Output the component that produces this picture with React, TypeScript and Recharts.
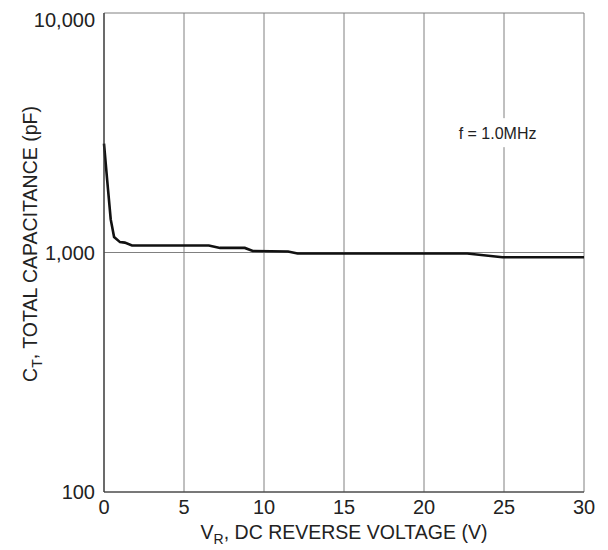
import React from "react";
import {
  LineChart,
  Line,
  XAxis,
  YAxis,
  CartesianGrid,
  ReferenceDot,
} from "recharts";

const voltage = [0, 0.2, 0.42, 0.63, 1.0, 1.3, 1.75, 6.55, 7.25, 8.8, 9.3, 11.5, 12.1, 22.7, 24.9, 30];
const capacitance = [2850, 2000, 1375, 1160, 1105, 1100, 1070, 1070, 1045, 1045, 1015, 1010, 990, 990, 955, 955];
const xTicks = [0, 5, 10, 15, 20, 25, 30];
const yTicks = [100, 1000, 10000];
const noteX = 24.6;
const noteY = 3150;
const noteText = "f = 1.0MHz";

const data = voltage.map((v, i) => ({ v, c: capacitance[i] }));

const FONT = "'Liberation Sans', Arial, sans-serif";
const TEXT = "#222";
const GRID = "#808080";

const fmt = (n: number) => n.toLocaleString("en-US");

const XLabel = (props: any) => {
  const vb = props.viewBox || {};
  const cx = vb.x + vb.width / 2;
  const y = vb.y + 47;
  return (
    <text x={cx} y={y} textAnchor="middle" fontFamily={FONT} fontSize={19.5} fill={TEXT}>
      <tspan>V</tspan>
      <tspan fontSize={14} dy={5}>R</tspan>
      <tspan dy={-5}>, DC REVERSE VOLTAGE (V)</tspan>
    </text>
  );
};

const YLabel = (props: any) => {
  const x = 22;
  const cy = 236;
  return (
    <text
      x={x}
      y={cy}
      dy="0.35em"
      textAnchor="middle"
      fontFamily={FONT}
      fontSize={19.5}
      fill={TEXT}
      transform={`rotate(-90 ${x} ${cy})`}
    >
      <tspan>C</tspan>
      <tspan fontSize={14} dy={5}>T</tspan>
      <tspan dy={-5}>, TOTAL CAPACITANCE (pF)</tspan>
    </text>
  );
};

const Note = (props: any) => {
  const { cx, cy } = props;
  return (
    <g>
      <rect x={cx - 43} y={cy - 15} width={86} height={29} fill="#fff" />
      <text
        x={cx}
        y={cy}
        dy="0.35em"
        textAnchor="middle"
        fontFamily={FONT}
        fontSize={16}
        fill={TEXT}
      >
        {noteText}
      </text>
    </g>
  );
};

export default function App() {
  return (
    <div style={{ width: 600, height: 542, background: "#fff" }}>
      <LineChart
        width={600}
        height={542}
        data={data}
        margin={{ top: 5, right: 24, left: 0, bottom: 0 }}
      >
        <CartesianGrid stroke={GRID} strokeWidth={1} />
        <XAxis
          dataKey="v"
          type="number"
          domain={[0, 30]}
          ticks={xTicks}
          height={58}
          tickSize={0}
          tickMargin={8}
          tick={{ fontFamily: FONT, fontSize: 20, fill: TEXT }}
          axisLine={{ stroke: "#333", strokeWidth: 1.2 }}
          label={{ content: XLabel }}
        />
        <YAxis
          dataKey="c"
          scale="log"
          type="number"
          domain={[100, 10000]}
          ticks={yTicks}
          allowDataOverflow
          width={96}
          tickSize={0}
          tickMargin={9}
          tickFormatter={fmt}
          tick={{ fontFamily: FONT, fontSize: 20, fill: TEXT }}
          axisLine={{ stroke: "#333", strokeWidth: 1.2 }}
          label={{ content: YLabel }}
        />
        <Line
          type="linear"
          dataKey="c"
          stroke="#111"
          strokeWidth={2.6}
          dot={false}
          isAnimationActive={false}
        />
        <ReferenceDot x={noteX} y={noteY} r={0} shape={Note} />
      </LineChart>
    </div>
  );
}
